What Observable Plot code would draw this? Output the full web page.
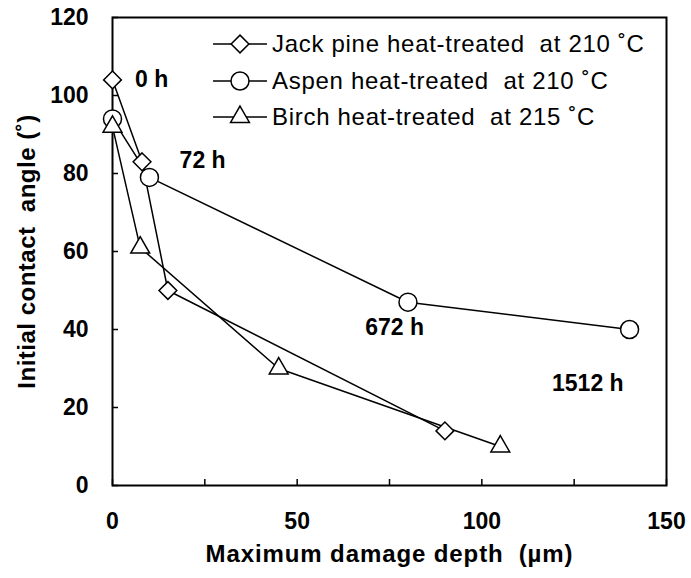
<!DOCTYPE html>
<html><head><meta charset="utf-8">
<script src="https://cdn.jsdelivr.net/npm/d3@7"></script>
<script src="https://cdn.jsdelivr.net/npm/@observablehq/plot@0.6"></script>
<style>
body{margin:0;background:#fff;}
#wrap{position:relative;width:691px;height:578px;overflow:hidden;}
.lg{position:absolute;left:210px;height:36px;display:flex;align-items:center;font-family:"Liberation Sans",Arial,sans-serif;font-size:24px;letter-spacing:0.7px;white-space:pre;color:#000;}
.lg svg{display:block;margin-right:2px;}
</style></head><body><div id="wrap"></div>
<script>
const seriesNames = ["Jack pine heat-treated  at 210 ˚C", "Aspen heat-treated  at 210 ˚C", "Birch heat-treated  at 215 ˚C"];
const seriesSymbols = ["diamond2", "circle", "triangle2"];
const jackX = [0, 8, 15, 90];
const jackY = [104, 83, 50, 14];
const aspenX = [0, 10, 80, 140];
const aspenY = [94, 79, 47, 40];
const birchX = [0, 7.5, 45, 105];
const birchY = [92, 61, 30, 10];
const xTicks = [0, 25, 50, 75, 100, 125, 150];
const xTickLabels = [0, 50, 100, 150];
const yTicks = [0, 20, 40, 60, 80, 100, 120];
const annoText = ["0 h", "72 h", "672 h", "1512 h"];
const annoX = [10.6, 24.4, 76.4, 128.7];
const annoY = [104, 83.4, 40.6, 26.2];
const xTitle = "Maximum damage depth  (µm)";
const yTitle = "Initial contact  angle (˚)";

const W = 691, H = 578, mL = 112, mR = 25, mT = 17, mB = 93;
const plotW = W - mL - mR, plotH = H - mT - mB;
const allX = [jackX, aspenX, birchX], allY = [jackY, aspenY, birchY];
const rows = allX.flatMap((xs, s) => xs.map((x, i) => ({series: seriesNames[s], x, y: allY[s][i]})));
const annos = annoText.map((t, i) => ({t, x: annoX[i], y: annoY[i]}));
const radii = [8, 9, 9];
const font = "Liberation Sans, Arial, sans-serif";

const chart = Plot.plot({
  width: W, height: H,
  marginLeft: mL, marginRight: mR, marginTop: mT, marginBottom: mB,
  style: {fontFamily: font, fontSize: "23px", fontWeight: "bold", color: "#000", background: "#fff", overflow: "visible"},
  x: {domain: [0, 150]},
  y: {domain: [0, 120]},
  marks: [
    Plot.axisX(xTickLabels, {tickSize: 0, tickPadding: 27, label: null, fontSize: 23, fontWeight: "bold"}),
    Plot.axisY(yTicks, {tickSize: 0, tickPadding: 24, label: null, fontSize: 23, fontWeight: "bold"}),
    Plot.tickX(xTicks, {x: d => d, insetTop: plotH - 6, stroke: "black", strokeWidth: 1.5}),
    Plot.tickY(yTicks, {y: d => d, insetRight: plotW - 6, stroke: "black", strokeWidth: 1.5}),
    Plot.frame({stroke: "black", strokeWidth: 2}),
    Plot.line(rows, {x: "x", y: "y", z: "series", stroke: "black", strokeWidth: 1.5}),
    ...seriesNames.map((s, i) => Plot.dot(rows.filter(d => d.series === s), {x: "x", y: "y", symbol: () => seriesSymbols[i], r: radii[i], fill: "white", stroke: "black", strokeWidth: 1.5})),
    Plot.text(annos, {x: "x", y: "y", text: "t", fontSize: 23, fontWeight: "bold", fill: "black"}),
    Plot.text([xTitle], {frameAnchor: "bottom", dy: 68.5, textAnchor: "middle", fontSize: 24, fontWeight: "bold", fill: "black", lineAnchor: "middle", text: d => d}),
    Plot.text([yTitle], {frameAnchor: "left", dx: -85, rotate: -90, textAnchor: "middle", fontSize: 24, fontWeight: "bold", fill: "black", lineAnchor: "middle", text: d => d})
  ]
});
const wrap = document.getElementById("wrap");
wrap.appendChild(chart);
d3.select(chart).selectAll("text").style("white-space", "pre");
d3.select(chart).selectAll("text").filter(function() { return this.textContent === xTitle; }).style("letter-spacing", "0.9px");
d3.select(chart).selectAll("text").filter(function() { return this.textContent === yTitle; }).style("letter-spacing", "0.5px");

// legend overlay
const rowCenters = [44, 81, 117];
const symTypes = {diamond2: d3.symbolDiamond2, circle: d3.symbolCircle, triangle2: d3.symbolTriangle2};
seriesNames.forEach((name, i) => {
  const div = document.createElement("div");
  div.className = "lg";
  div.style.top = (rowCenters[i] - 18) + "px";
  const svg = d3.create("svg").attr("width", 60).attr("height", 36);
  svg.append("line").attr("x1", 3).attr("x2", 57).attr("y1", 18).attr("y2", 18).attr("stroke", "black").attr("stroke-width", 1.5);
  svg.append("path").attr("transform", "translate(30,18)")
    .attr("d", d3.symbol(symTypes[seriesSymbols[i]], Math.PI * radii[i] * radii[i])())
    .attr("fill", "white").attr("stroke", "black").attr("stroke-width", 1.5);
  div.appendChild(svg.node());
  const span = document.createElement("span");
  span.textContent = name;
  div.appendChild(span);
  wrap.appendChild(div);
});
</script>
</body></html>
